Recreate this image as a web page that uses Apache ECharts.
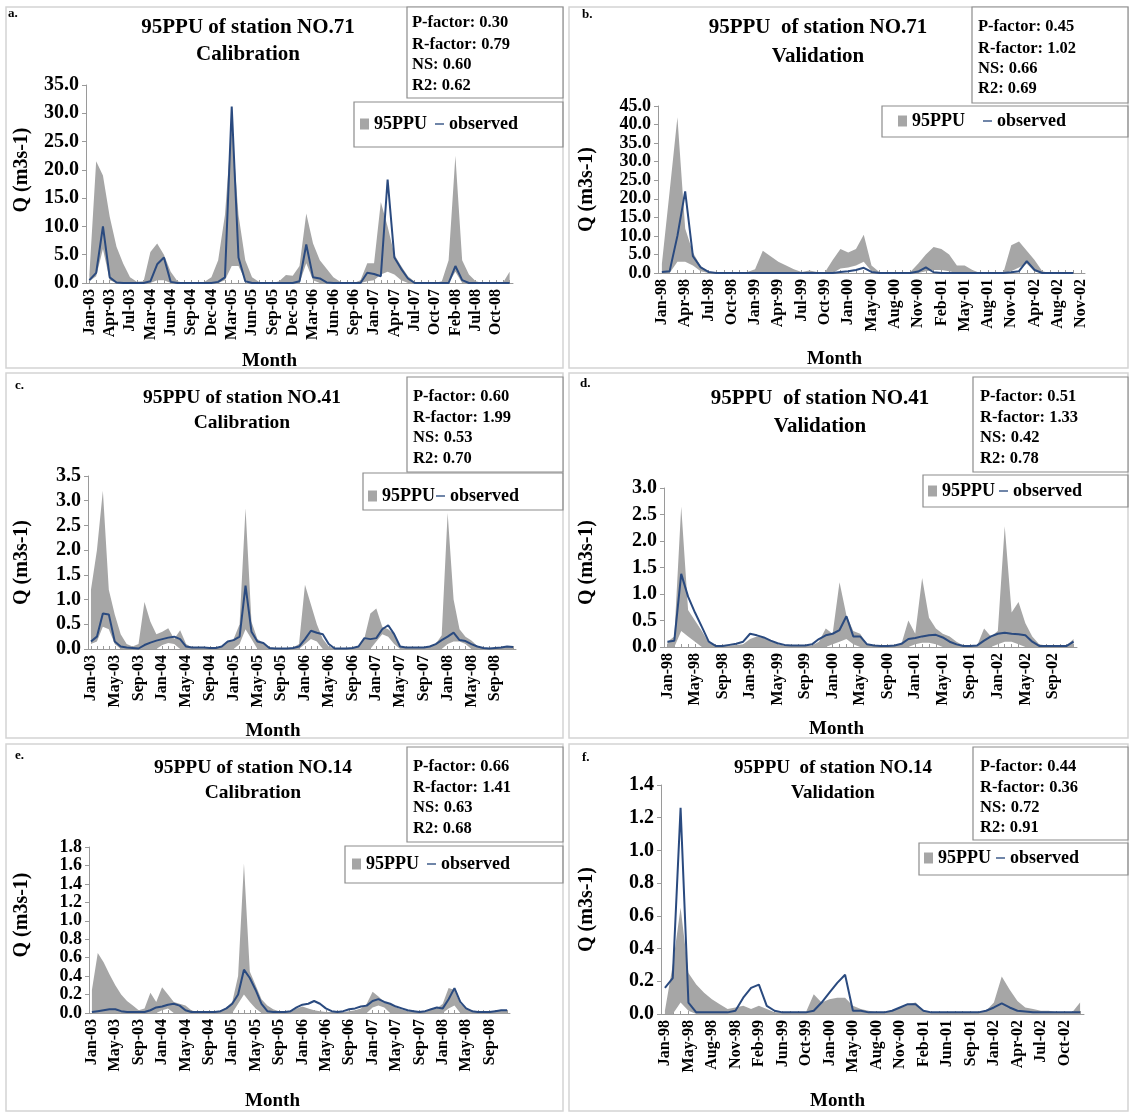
<!DOCTYPE html>
<html>
<head>
<meta charset="utf-8">
<script src="https://cdn.jsdelivr.net/npm/echarts@6/dist/echarts.min.js"></script>
<style>
  html, body { margin: 0; padding: 0; background: #ffffff; }
  #chart { width: 1130px; height: 1114px; }
</style>
</head>
<body>
<div id="chart"></div>
<script>
// ---------- month categories ----------
const catsA = ['Jan-03','Feb-03','Mar-03','Apr-03','May-03','Jun-03','Jul-03','Aug-03','Sep-03',
  'Mar-04','Apr-04','May-04','Jun-04','Jul-04','Aug-04','Sep-04','Oct-04','Nov-04','Dec-04',
  'Jan-05','Feb-05','Mar-05','Apr-05','May-05','Jun-05','Jul-05','Aug-05','Sep-05','Oct-05','Nov-05','Dec-05',
  'Jan-06','Feb-06','Mar-06','Apr-06','May-06','Jun-06','Jul-06','Aug-06','Sep-06','Oct-06','Nov-06',
  'Jan-07','Feb-07','Mar-07','Apr-07','May-07','Jun-07','Jul-07','Aug-07','Sep-07','Oct-07','Nov-07','Dec-07',
  'Feb-08','Mar-08','Apr-08','Jul-08','Aug-08','Sep-08','Oct-08','Nov-08','Dec-08'];
const catsB = ['Jan-98','Feb-98','Mar-98','Apr-98','May-98','Jun-98','Jul-98','Aug-98','Sep-98','Oct-98','Nov-98','Dec-98',
  'Jan-99','Feb-99','Mar-99','Apr-99','May-99','Jun-99','Jul-99','Aug-99','Sep-99','Oct-99','Nov-99','Dec-99',
  'Jan-00','Feb-00','Mar-00','May-00','Jun-00','Jul-00','Aug-00','Sep-00','Oct-00','Nov-00','Dec-00',
  'Jan-01','Feb-01','Mar-01','Apr-01','May-01','Jun-01','Jul-01','Aug-01','Sep-01','Oct-01','Nov-01',
  'Dec-01','Feb-02','Apr-02','May-02','Jun-02','Aug-02','Sep-02','Oct-02','Nov-02'];
const catsC = ['Jan-03','Feb-03','Mar-03','Apr-03','May-03','Jun-03','Jul-03','Aug-03','Sep-03','Oct-03','Nov-03','Dec-03',
  'Jan-04','Feb-04','Mar-04','Apr-04','May-04','Jun-04','Jul-04','Aug-04','Sep-04','Oct-04','Nov-04','Dec-04',
  'Jan-05','Feb-05','Mar-05','Apr-05','May-05','Jun-05','Jul-05','Aug-05','Sep-05','Oct-05','Nov-05','Dec-05',
  'Jan-06','Feb-06','Mar-06','Apr-06','May-06','Jun-06','Jul-06','Aug-06','Sep-06','Oct-06','Nov-06','Dec-06',
  'Jan-07','Feb-07','Mar-07','Apr-07','May-07','Jun-07','Jul-07','Aug-07','Sep-07','Oct-07','Nov-07','Dec-07',
  'Jan-08','Feb-08','Mar-08','Apr-08','May-08','Jun-08','Jul-08','Aug-08','Sep-08','Oct-08','Nov-08','Dec-08'];
const catsD = ['Jan-98','Feb-98','Mar-98','Apr-98','May-98','Jun-98','Jul-98','Aug-98','Sep-98','Oct-98','Nov-98','Dec-98',
  'Jan-99','Feb-99','Mar-99','Apr-99','May-99','Jun-99','Jul-99','Aug-99','Sep-99','Oct-99','Nov-99','Dec-99',
  'Jan-00','Feb-00','Mar-00','Apr-00','May-00','Jun-00','Jul-00','Aug-00','Sep-00','Oct-00','Nov-00','Dec-00',
  'Jan-01','Feb-01','Mar-01','Apr-01','May-01','Jun-01','Jul-01','Aug-01','Sep-01','Oct-01','Nov-01','Dec-01',
  'Jan-02','Feb-02','Mar-02','Apr-02','May-02','Jun-02','Jul-02','Aug-02','Sep-02','Oct-02','Nov-02','Dec-02'];
const catsE = catsC.slice();
const catsF = ['Jan-98','Feb-98','Mar-98','May-98','Jun-98','Jul-98','Aug-98','Sep-98','Oct-98','Nov-98','Dec-98',
  'Jan-99','Feb-99','Mar-99','Apr-99','Jun-99','Jul-99','Aug-99','Oct-99','Nov-99','Dec-99',
  'Jan-00','Feb-00','Mar-00','May-00','Jun-00','Jul-00','Aug-00','Sep-00','Oct-00','Nov-00','Dec-00',
  'Jan-01','Feb-01','Mar-01','Apr-01','Jun-01','Jul-01','Aug-01','Sep-01','Oct-01','Nov-01',
  'Jan-02','Feb-02','Mar-02','Apr-02','May-02','Jun-02','Jul-02','Aug-02','Sep-02','Oct-02','Nov-02','Dec-02'];

// ---------- station NO.71, calibration (m3/s) ----------
const upperA = [1.5,21.5,19,11.7,6.4,3.4,1.0,0.2,0.3, 5.5,7.0,5.0,2.0,0.3,0,0,0,0.2,1.0,
  4,12,28,12,4,1,0.2,0,0,0.3,1.4,1.3, 3,12.3,7,4,2.5,1,0.2,0,0,0.5,3.5,
  3.5,14.3,10,5,3,1.2,0.2,0,0,0,0.3,4, 22.5,4,1.5,0.3,0,0,0,0,2.0];
const lowerA = [0.3,1.2,6,0.5,0,0,0,0,0, 0,0.5,0.5,0,0,0,0,0,0,0,
  0,0.5,3,3,0.5,0,0,0,0,0,0,0, 0,3.5,0.5,0,0,0,0,0,0,0,0.3,
  0.5,1.5,2,1.5,0.5,0,0,0,0,0,0,0, 2,0,0,0,0,0,0,0,0];
const obsA = [0.5,1.8,10,1.0,0.1,0,0,0,0, 0.3,3.3,4.5,0.2,0,0,0,0,0,0,
  0.2,1.0,31.2,4.5,0.3,0,0,0,0,0,0,0, 0.3,6.8,1.0,0.8,0.1,0,0,0,0,0,1.8,
  1.6,1.2,18.3,4.5,2.5,0.8,0,0,0,0,0,0, 3.0,0.5,0,0,0,0,0,0,0];

// ---------- station NO.71, validation ----------
const upperB = [2.5,22,42,12,5.5,1.8,0.4,0,0,0,0,0.3, 1.0,6,4.5,3,2,1,0.3,0.7,0.3,0.2,3.5,6.5,
  5.5,6.5,10.3,2,0.3,0,0,0,0.3,2.5,5, 7,6.5,5,2,2,0.8,0,0,0,0.2,
  7.5,8.5,6,3.5,0.5,0,0,0,0];
const lowerB = [0,0,3,3,2,0.5,0,0,0,0,0,0, 0,0,0,0,0,0,0,0,0,0,0,1.2,
  1.5,2,3,0.5,0,0,0,0,0,0,0.5, 0.8,0.8,0.5,0,0,0,0,0,0,0,
  0.5,1.5,2.5,0.5,0,0,0,0,0];
const obsB = [0.3,0.5,10,22,4.5,1.5,0.3,0,0,0,0,0, 0,0,0,0,0,0,0,0,0,0,0,0.3,
  0.5,0.8,1.4,0.3,0,0,0,0,0,0.4,1.5, 0.2,0,0,0,0,0,0,0,0,0,
  0.2,0.5,3.2,0.8,0,0,0,0,0];

// ---------- station NO.41, calibration ----------
const upperC = [1.2,2.0,3.2,1.2,0.7,0.3,0.1,0.05,0.1,0.95,0.55,0.3,
  0.35,0.42,0.2,0.38,0.1,0.03,0.02,0.02,0.02,0.02,0.05,0.15,
  0.2,0.5,2.85,0.55,0.2,0.12,0.03,0.01,0.01,0.01,0.03,0.1,
  1.3,0.9,0.5,0.2,0.05,0.01,0.01,0.01,0.02,0.05,0.22,0.72,
  0.82,0.45,0.4,0.3,0.06,0.03,0.03,0.03,0.03,0.05,0.1,0.28,
  2.75,1.0,0.4,0.25,0.17,0.06,0.02,0.01,0.02,0.04,0.06,0.05];
const lowerC = [0.1,0.15,0.45,0.4,0.1,0,0,0,0,0,0,0,
  0.08,0.12,0.1,0,0,0,0,0,0,0,0,0,
  0,0.1,0.4,0.2,0,0,0,0,0,0,0,0,
  0.1,0.2,0.15,0,0,0,0,0,0,0,0,0,
  0.15,0.3,0.25,0.1,0,0,0,0,0,0,0,0,
  0.1,0.15,0.15,0.1,0,0,0,0,0,0,0,0];
const obsC = [0.15,0.25,0.72,0.7,0.15,0.05,0.03,0.02,0.01,0.08,0.13,0.17,
  0.2,0.23,0.25,0.2,0.05,0.03,0.03,0.03,0.02,0.02,0.05,0.15,
  0.18,0.25,1.28,0.35,0.15,0.12,0.02,0.01,0.01,0.01,0.02,0.05,
  0.2,0.37,0.33,0.3,0.1,0.01,0.01,0.01,0.02,0.05,0.22,0.2,
  0.22,0.4,0.48,0.3,0.05,0.03,0.03,0.03,0.03,0.05,0.1,0.18,
  0.25,0.33,0.18,0.16,0.1,0.05,0.02,0.01,0.02,0.03,0.05,0.04];

// ---------- station NO.41, validation ----------
const upperD = [0.1,0.2,2.65,0.7,0.5,0.3,0.08,0.03,0.02,0.03,0.04,0.05,
  0.15,0.2,0.17,0.12,0.05,0.03,0.02,0.02,0.02,0.03,0.1,0.35,
  0.25,1.22,0.6,0.3,0.25,0.05,0.03,0.02,0.02,0.03,0.06,0.5,
  0.25,1.3,0.55,0.35,0.25,0.2,0.1,0.03,0.02,0.03,0.35,0.2,
  0.3,2.28,0.65,0.85,0.45,0.2,0.05,0.03,0.02,0.02,0.03,0.15];
const lowerD = [0,0,0.3,0.2,0.1,0,0,0,0,0,0,0,
  0,0,0,0,0,0,0,0,0,0,0,0,
  0.05,0.1,0.15,0.05,0,0,0,0,0,0,0,0,
  0.05,0.08,0.08,0.05,0,0,0,0,0,0,0,0,
  0.05,0.1,0.1,0.05,0,0,0,0,0,0,0,0];
const obsD = [0.1,0.12,1.38,0.95,0.65,0.38,0.1,0.02,0.02,0.04,0.06,0.1,
  0.25,0.22,0.18,0.12,0.07,0.04,0.03,0.03,0.03,0.05,0.15,0.22,
  0.25,0.32,0.58,0.2,0.2,0.05,0.03,0.02,0.02,0.03,0.06,0.15,
  0.17,0.2,0.22,0.23,0.18,0.1,0.05,0.02,0.02,0.03,0.12,0.2,
  0.25,0.27,0.25,0.24,0.22,0.1,0.02,0.02,0.02,0.02,0.02,0.1];

// ---------- station NO.14, calibration ----------
const upperE = [0.25,0.65,0.55,0.42,0.3,0.2,0.13,0.08,0.03,0.05,0.22,0.12,
  0.28,0.2,0.12,0.1,0.08,0.03,0.01,0.01,0.01,0.01,0.02,0.06,
  0.12,0.4,1.62,0.45,0.3,0.15,0.08,0.04,0.02,0.01,0.01,0.05,
  0.07,0.05,0.03,0.02,0.01,0.01,0.01,0.01,0.02,0.03,0.05,0.1,
  0.23,0.18,0.12,0.1,0.06,0.04,0.02,0.02,0.01,0.02,0.04,0.05,
  0.1,0.27,0.25,0.1,0.05,0.02,0.01,0.01,0.01,0.02,0.03,0.03];
const lowerE = [0,0,0,0,0,0,0,0,0,0,0,0,
  0.03,0.05,0,0,0,0,0,0,0,0,0,0,
  0,0.1,0.2,0.12,0.05,0,0,0,0,0,0,0,
  0,0,0,0,0,0,0,0,0,0,0,0,
  0.06,0.08,0.06,0,0,0,0,0,0,0,0,0,
  0,0.05,0.08,0,0,0,0,0,0,0,0,0];
const obsE = [0.01,0.02,0.03,0.04,0.04,0.02,0.01,0.01,0.01,0.01,0.03,0.06,
  0.07,0.09,0.1,0.08,0.03,0.01,0.01,0.01,0.01,0.01,0.02,0.05,
  0.1,0.2,0.47,0.38,0.25,0.1,0.02,0.01,0.01,0.01,0.02,0.06,
  0.09,0.1,0.13,0.1,0.05,0.02,0.01,0.02,0.04,0.05,0.07,0.08,
  0.13,0.15,0.12,0.1,0.07,0.05,0.03,0.02,0.01,0.02,0.04,0.06,
  0.05,0.15,0.27,0.12,0.05,0.02,0.01,0.01,0.01,0.02,0.03,0.03];

// ---------- station NO.14, validation ----------
const upperF = [0.02,0.3,0.65,0.25,0.18,0.13,0.09,0.06,0.03,0.04,0.05,
  0.03,0.05,0.03,0.01,0.01,0.01,0.01,0.01,0.12,0.07,
  0.09,0.1,0.1,0.05,0.03,0.02,0.01,0.01,0.02,0.04,0.06,
  0.07,0.02,0.01,0.01,0.01,0.01,0.01,0.01,0.01,0.02,
  0.07,0.23,0.15,0.08,0.04,0.03,0.02,0.02,0.01,0.01,0.01,0.07];
const lowerF = [0,0,0.07,0.02,0,0,0,0,0,0,0,
  0,0,0,0,0,0,0,0,0,0,
  0,0,0,0,0,0,0,0,0,0,0,
  0,0,0,0,0,0,0,0,0,0,
  0,0,0,0,0,0,0,0,0,0,0,0];
const obsF = [0.16,0.22,1.26,0.07,0.01,0.01,0.01,0.01,0.01,0.02,0.1,
  0.16,0.18,0.05,0.02,0.01,0.01,0.01,0.01,0.02,0.07,
  0.13,0.19,0.24,0.02,0.02,0.01,0.01,0.01,0.02,0.04,0.06,
  0.06,0.02,0.01,0.01,0.01,0.01,0.01,0.01,0.01,0.02,
  0.04,0.065,0.04,0.02,0.015,0.01,0.01,0.01,0.01,0.01,0.01,0.01];

// ---------- performance statistics ----------
const statsA = ['P-factor: 0.30', 'R-factor: 0.79', 'NS: 0.60', 'R2: 0.62'];
const statsB = ['P-factor: 0.45', 'R-factor: 1.02', 'NS: 0.66', 'R2: 0.69'];
const statsC = ['P-factor: 0.60', 'R-factor: 1.99', 'NS: 0.53', 'R2: 0.70'];
const statsD = ['P-factor: 0.51', 'R-factor: 1.33', 'NS: 0.42', 'R2: 0.78'];
const statsE = ['P-factor: 0.66', 'R-factor: 1.41', 'NS: 0.63', 'R2: 0.68'];
const statsF = ['P-factor: 0.44', 'R-factor: 0.36', 'NS: 0.72', 'R2: 0.91'];

// y-axis ranges [max, step]
const yRangeA = [35, 5], yRangeB = [45, 5], yRangeC = [3.5, 0.5];
const yRangeD = [3.0, 0.5], yRangeE = [1.8, 0.2], yRangeF = [1.4, 0.2];

// ---------- panel definitions (data + layout) ----------
const panels = [
  { letter: 'a.', t1: '95PPU of station NO.71', t2: 'Calibration', cats: catsA, up: upperA, lo: lowerA, ob: obsA, stats: statsA, yr: yRangeA, every: 3,
    grid: [86, 85, 427, 198], frame: [6, 7, 557, 361], title: [248, 28, 55, 21], let: [8, 14], yFont: 20,
    box: [407, 7, 156, 91, 412, [23, 45, 65, 86]], lgBox: [354, 102, 209, 45], lg: [360, 125, 8],
    yGap: 54, yPad: [0, 0, 0, 28], xGap: 69, mShift: 30 },
  { letter: 'b.', t1: '95PPU  of station NO.71', t2: 'Validation', cats: catsB, up: upperB, lo: lowerB, ob: obsB, stats: statsB, yr: yRangeB, every: 3,
    grid: [658, 106, 427, 167], frame: [569, 7, 559, 361], title: [818, 28, 57, 21], let: [582, 15], yFont: 18,
    box: [972, 7, 156, 96, 978, [27, 49, 69, 89]], lgBox: [882, 106, 246, 31], lg: [898, 122, 18],
    yGap: 61, yPad: [0, 0, 0, 0], xGap: 77, mShift: 37 },
  { letter: 'c.', t1: '95PPU of station NO.41', t2: 'Calibration', cats: catsC, up: upperC, lo: lowerC, ob: obsC, stats: statsC, yr: yRangeC, every: 4,
    grid: [88, 476, 428, 173], frame: [6, 373, 557, 365], title: [242, 398, 423, 19.5], let: [15, 386], yFont: 20,
    box: [407, 377, 156, 95, 413, [397, 418, 438, 459]], lgBox: [363, 473, 200, 37], lg: [368, 497, 1],
    yGap: 56, yPad: [0, 0, 0, 0], xGap: 73, mShift: 29 },
  { letter: 'd.', t1: '95PPU  of station NO.41', t2: 'Validation', cats: catsD, up: upperD, lo: lowerD, ob: obsD, stats: statsD, yr: yRangeD, every: 4,
    grid: [664, 488, 413, 159], frame: [569, 373, 559, 365], title: [820, 399, 427, 21], let: [580, 384], yFont: 20,
    box: [973, 377, 155, 95, 980, [397, 418, 438, 459]], lgBox: [923, 475, 205, 32], lg: [928, 492, 4],
    yGap: 67, yPad: [0, 0, 0, 10], xGap: 73, mShift: 34 },
  { letter: 'e.', t1: '95PPU of station NO.14', t2: 'Calibration', cats: catsE, up: upperE, lo: lowerE, ob: obsE, stats: statsE, yr: yRangeE, every: 4,
    grid: [89, 847, 421, 166], frame: [6, 744, 557, 367], title: [253, 768, 793, 19.5], let: [15, 756], yFont: 18,
    box: [407, 747, 156, 95, 413, [767, 788, 808, 829]], lgBox: [345, 846, 218, 37], lg: [352, 865, 8],
    yGap: 57, yPad: [0, 0, 0, 30], xGap: 79, mShift: 27 },
  { letter: 'f.', t1: '95PPU  of station NO.14', t2: 'Validation', cats: catsF, up: upperF, lo: lowerF, ob: obsF, stats: statsF, yr: yRangeF, every: 3,
    grid: [661, 785, 423, 229], frame: [569, 744, 559, 367], title: [833, 768, 793, 19], let: [582, 758], yFont: 20,
    box: [973, 747, 155, 93, 980, [767, 788, 808, 828]], lgBox: [919, 843, 209, 32], lg: [924, 859, 5],
    yGap: 64, yPad: [0, 20, 0, 0], xGap: 78, mShift: 35 }
];

const SERIF = '"Liberation Serif", "Times New Roman", serif';
const BAND = '#a6a6a6';
const OBS = '#2a4a7f';
const AXIS = '#9a9a9a';

const grids = [], xAxes = [], yAxes = [], series = [], legends = [], graphics = [];

panels.forEach((p, i) => {
  grids.push({ left: p.grid[0], top: p.grid[1], width: p.grid[2], height: p.grid[3] });

  xAxes.push({
    type: 'category', gridIndex: i, data: p.cats, boundaryGap: true,
    name: 'Month', nameLocation: 'middle', nameGap: p.xGap,
    nameTextStyle: { fontFamily: SERIF, fontWeight: 'bold', fontSize: 19, color: '#000', padding: [0, p.mShift * 2, 0, 0] },
    axisLine: { show: true, lineStyle: { color: AXIS, width: 1 } },
    axisTick: { show: true, interval: 0, alignWithLabel: true, inside: true, length: 3, lineStyle: { color: AXIS } },
    axisLabel: { interval: p.every - 1, rotate: 90, margin: 6, fontFamily: SERIF, fontWeight: 'bold', fontSize: 16, color: '#000' },
    splitLine: { show: false }
  });

  yAxes.push({
    type: 'value', gridIndex: i, min: 0, max: p.yr[0], interval: p.yr[1],
    name: 'Q (m3s-1)', nameLocation: 'middle', nameGap: p.yGap,
    nameTextStyle: { fontFamily: SERIF, fontWeight: 'bold', fontSize: 20, color: '#000', padding: p.yPad },
    axisLine: { show: true, lineStyle: { color: AXIS, width: 1 } },
    axisTick: { show: true, length: 4, lineStyle: { color: AXIS } },
    axisLabel: { margin: 7, showMinLabel: true, showMaxLabel: true, hideOverlap: false,
      fontFamily: SERIF, fontWeight: 'bold', fontSize: p.yFont, color: '#000',
      formatter: v => v.toFixed(1) },
    splitLine: { show: false }
  });

  // 95PPU band: lower bound as invisible base, band thickness stacked on top
  series.push({
    type: 'line', name: 'lower-' + i, xAxisIndex: i, yAxisIndex: i, stack: 'ppu' + i,
    data: p.lo, symbol: 'none', silent: true, lineStyle: { width: 0, opacity: 0 }, z: 1
  });
  series.push({
    type: 'line', name: '95PPU', xAxisIndex: i, yAxisIndex: i, stack: 'ppu' + i,
    data: p.up.map((u, k) => Math.max(0, +(u - p.lo[k]).toFixed(4))),
    symbol: 'none', silent: true, lineStyle: { width: 0, opacity: 0 },
    itemStyle: { color: BAND }, areaStyle: { color: BAND, opacity: 1 }, z: 1
  });
  series.push({
    type: 'line', name: 'observed', xAxisIndex: i, yAxisIndex: i,
    data: p.ob, symbol: 'none', silent: true,
    lineStyle: { color: OBS, width: 2 }, itemStyle: { color: OBS }, z: 3
  });

  legends.push({
    left: p.lg[0], top: p.lg[1] - 10, padding: 0, itemGap: p.lg[2],
    itemWidth: 9, itemHeight: 11, selectedMode: false,
    textStyle: { fontFamily: SERIF, fontWeight: 'bold', fontSize: 18, color: '#000' },
    data: [ { name: '95PPU', icon: 'rect' }, { name: 'observed', icon: 'path://M0,0H20V3H0Z' } ]
  });

  // panel frame
  graphics.push({ type: 'rect', silent: true, z: 0,
    shape: { x: p.frame[0], y: p.frame[1], width: p.frame[2], height: p.frame[3] },
    style: { fill: 'none', stroke: '#d4d4d4', lineWidth: 1.5 } });
  // panel letter
  graphics.push({ type: 'text', silent: true, x: p.let[0], y: p.let[1],
    style: { text: p.letter, font: 'bold 13px ' + SERIF, fill: '#000', textAlign: 'left', textVerticalAlign: 'middle' } });
  // title lines
  graphics.push({ type: 'text', silent: true, x: p.title[0], y: p.title[1],
    style: { text: p.t1, font: 'bold ' + p.title[3] + 'px ' + SERIF, fill: '#000', textAlign: 'center', textVerticalAlign: 'middle' } });
  graphics.push({ type: 'text', silent: true, x: p.title[0], y: p.title[2],
    style: { text: p.t2, font: 'bold ' + p.title[3] + 'px ' + SERIF, fill: '#000', textAlign: 'center', textVerticalAlign: 'middle' } });
  // statistics box
  graphics.push({ type: 'rect', silent: true,
    shape: { x: p.box[0], y: p.box[1], width: p.box[2], height: p.box[3] },
    style: { fill: '#fff', stroke: '#8c8c8c', lineWidth: 1.2 } });
  p.stats.forEach((s, k) => {
    graphics.push({ type: 'text', silent: true, x: p.box[4], y: p.box[5][k],
      style: { text: s, font: 'bold 16.5px ' + SERIF, fill: '#000', textAlign: 'left', textVerticalAlign: 'middle' } });
  });
  // legend frame
  graphics.push({ type: 'rect', silent: true,
    shape: { x: p.lgBox[0], y: p.lgBox[1], width: p.lgBox[2], height: p.lgBox[3] },
    style: { fill: 'none', stroke: '#8c8c8c', lineWidth: 1.2 } });
});

const chart = echarts.init(document.getElementById('chart'), null, { renderer: 'canvas' });
chart.setOption({
  animation: false,
  backgroundColor: '#ffffff',
  grid: grids,
  xAxis: xAxes,
  yAxis: yAxes,
  legend: legends,
  series: series,
  graphic: { elements: graphics }
});
</script>
</body>
</html>
